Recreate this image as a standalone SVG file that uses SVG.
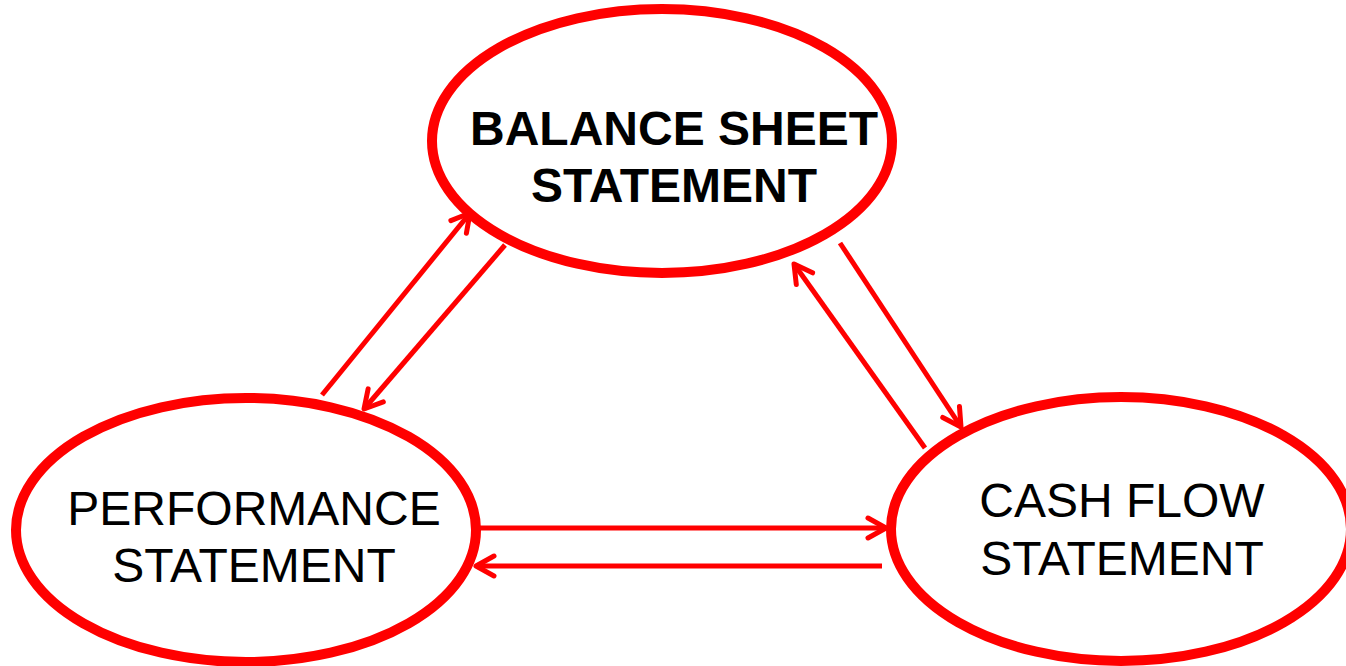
<svg xmlns="http://www.w3.org/2000/svg" width="1346" height="666" viewBox="0 0 1346 666">
<style>
.node{fill:#fff;stroke:#ff0000;stroke-width:10}
.lbl{font-family:"Liberation Sans",Arial,sans-serif;font-size:48px;fill:#000;text-anchor:middle}
.bold{font-weight:bold}
.conn{stroke:#ff0000;stroke-width:5;fill:none;marker-end:url(#ah)}
</style>
<defs>
<marker id="ah" markerUnits="userSpaceOnUse" viewBox="-24 -14 28 28" refX="0" refY="0" markerWidth="28" markerHeight="28" orient="auto" overflow="visible">
<path d="M-18,-10 L0,0 L-18,10" fill="none" stroke="#ff0000" stroke-width="5" stroke-linecap="round" stroke-linejoin="round"/>
</marker>
</defs>
<rect width="1346" height="666" fill="#fff"/>
<g id="node-balance">
<ellipse class="node" cx="662" cy="141" rx="230" ry="132"/>
<text class="lbl bold" x="674" y="145">BALANCE SHEET</text>
<text class="lbl bold" x="674" y="202">STATEMENT</text>
</g>
<g id="node-performance">
<ellipse class="node" cx="246" cy="530" rx="230" ry="132"/>
<text class="lbl" x="254" y="525">PERFORMANCE</text>
<text class="lbl" x="254" y="582">STATEMENT</text>
</g>
<g id="node-cashflow">
<ellipse class="node" cx="1121" cy="529" rx="230" ry="132"/>
<text class="lbl" x="1122" y="517">CASH FLOW</text>
<text class="lbl" x="1122" y="575">STATEMENT</text>
</g>
<g id="connectors">
<line class="conn" x1="322" y1="395" x2="470" y2="213"/>
<line class="conn" x1="505" y1="245" x2="364" y2="409"/>
<line class="conn" x1="925" y1="448" x2="794" y2="264"/>
<line class="conn" x1="840" y1="243" x2="961" y2="427"/>
<line class="conn" x1="480" y1="528" x2="886" y2="528"/>
<line class="conn" x1="882" y1="566" x2="476" y2="566"/>
</g>
</svg>
